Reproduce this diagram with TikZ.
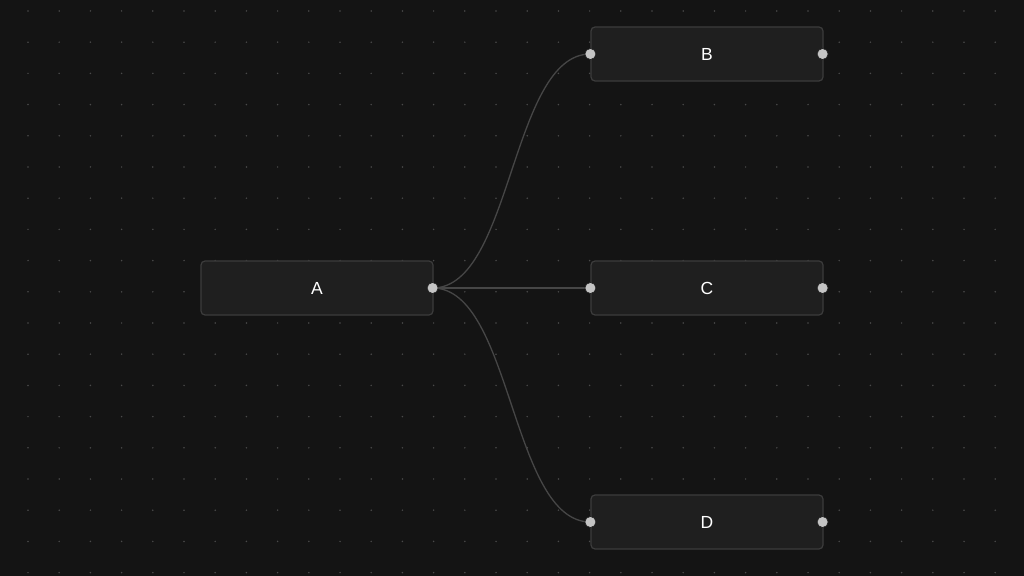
\documentclass[tikz,border=0pt]{standalone}
\usepackage{fontspec}
\setmainfont{Liberation Sans}
\definecolor{bgc}{HTML}{141414}
\definecolor{dotc}{HTML}{4A4A4A}
\definecolor{nodefill}{HTML}{1F1F1F}
\definecolor{nodeborder}{HTML}{3C3C3C}
\definecolor{edgec}{HTML}{464646}
\definecolor{handlec}{HTML}{C4C4C4}
\tikzset{
  flownode/.style={draw=nodeborder, fill=nodefill, line width=1.2bp, rounded corners=4bp,
    minimum width=232bp, minimum height=54bp, inner sep=0pt, text=white,
    font=\fontsize{17.5bp}{19bp}\selectfont},
  handle/.style={circle, fill=handlec, draw=nodefill, line width=0.6bp, minimum size=11bp, inner sep=0pt},
  edge/.style={draw=edgec, line width=1.3bp},
  griddot/.style={fill=dotc}
}
\begin{document}
\begin{tikzpicture}[x=1bp,y=-1bp]
\fill[bgc] (0,0) rectangle (1024,576);
\useasboundingbox (0,0) rectangle (1024,576);
% dot grid
\foreach \i in {0,...,32}{
  \foreach \j in {0,...,18}{
    \fill[griddot] ({28+31.2*\i},{11+31.2*\j}) circle (0.85bp);
  }
}
% nodes
\node[flownode] (A) at (317,288) {A};
\node[flownode] (B) at (707,54) {B};
\node[flownode] (C) at (707,288) {C};
\node[flownode] (D) at (707,522) {D};
% handle coordinates
\coordinate (Aout) at ([xshift=-1bp]A.east);
\coordinate (Bin) at (B.west);
\coordinate (Cin) at (C.west);
\coordinate (Din) at (D.west);
% edges
\draw[edge] (Aout) .. controls ([xshift=79.5bp]Aout) and ([xshift=-79.5bp]Bin) .. (Bin);
\draw[edge] (Aout) -- (Cin);
\draw[edge] (Aout) .. controls ([xshift=79.5bp]Aout) and ([xshift=-79.5bp]Din) .. (Din);
% handles
\node[handle] (Ahr) at (Aout) {};
\foreach \n in {B,C,D}{
  \node[handle] (\n hl) at (\n.west) {};
  \node[handle] (\n hr) at ([xshift=-1bp]\n.east) {};
}
\end{tikzpicture}
\end{document}
